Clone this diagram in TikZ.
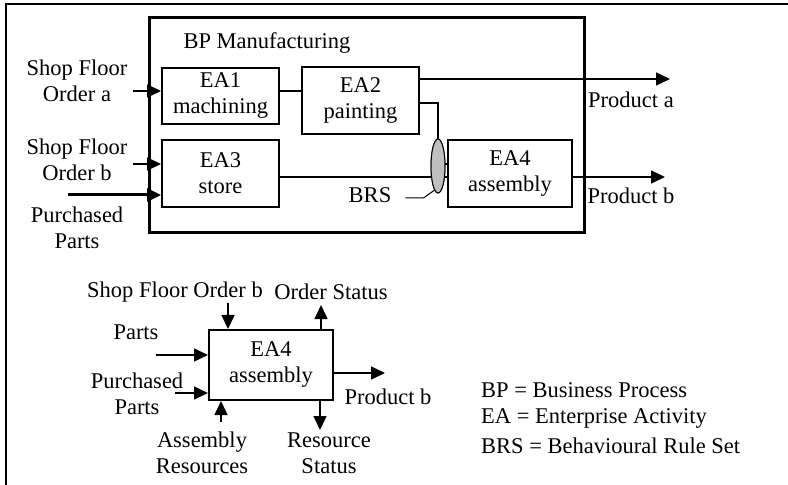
\documentclass[tikz,border=0pt]{standalone}
\usepackage{fontspec}
\setmainfont{Liberation Serif}
\usetikzlibrary{arrows.meta,shapes.geometric,positioning,calc}
\newcommand\diafont{\fontsize{22.5bp}{26bp}\selectfont}
\tikzset{
  ea/.style   = { draw, line width=2bp, minimum width=117bp, align=center, inner sep=0pt },
  bpbox/.style = { draw, line width=3bp },
  lbl/.style  = { align=center, inner sep=0pt },
  flow/.style = { line width=1.5bp, -{Triangle[length=14bp,width=13bp]} },
  link/.style = { line width=1.5bp },
  brsmark/.style = { draw, ellipse, line width=1bp, fill=gray!50, minimum width=14bp, minimum height=54bp, inner sep=0pt }
}
\begin{document}
\begin{tikzpicture}[x=1bp,y=-1bp,font=\diafont]
  \useasboundingbox (0,0) rectangle (788,485);
  % frame (only top and left edges show)
  \draw[line width=2bp] (5.5,485) -- (5.5,4.5) -- (788,4.5);

  % business process
  \node[bpbox, minimum width=434bp, minimum height=214bp] (bp) at (367,125) {};
  \node[lbl] (bptitle) at (267,43) {BP Manufacturing};
  \node[ea, minimum height=56bp] (ea1) at (220.5,96) {EA1\\machining};
  \node[ea, minimum height=67bp] (ea2) at (360.5,100.5) {EA2\\painting};
  \node[ea, minimum height=67bp] (ea3) at (220.5,173.5) {EA3\\store};
  \node[ea, minimum width=124bp, minimum height=67bp] (ea4) at (510,173.5) {EA4\\assembly};
  \node[brsmark] (brs) at (438,166) {};
  \node[lbl] (brslbl) at (370,195) {BRS};

  % inputs
  \node[lbl] (sfoa) at (77,81) {Shop Floor\\Order a};
  \node[lbl] (sfob) at (77,160) {Shop Floor\\Order b};
  \node[lbl] (pparts) at (77,228) {Purchased\\Parts};
  \coordinate (ina) at (133,91);
  \coordinate (inb) at (133,164);
  \coordinate (inp) at (68,195);
  \draw[flow] (ina) -- (ina -| ea1.west);
  \draw[flow] (inb) -- (inb -| ea3.west);
  \draw[flow, line width=3bp] (inp) -- (inp -| ea3.west);

  % internal links
  \draw[link] (ea1.east |- 0,91) -- (ea2.west |- 0,91);
  \draw[link] (ea2.east |- 0,103) -| (brs.center |- 0,103) |- (ea4.west |- 0,164);
  \draw[link] (ea3.east |- 0,177) -- (ea4.west |- 0,177);
  \node[brsmark] at (brs) {};
  \draw[line width=1bp] (brslbl.east) ++(14,3) -- ++(18,0) -- ($(brs.south)+(-4,-3)$);

  % outputs
  \coordinate (outa) at (670,79);
  \coordinate (outb) at (665,177);
  \draw[flow] (ea2.east |- outa) -- (outa);
  \draw[flow] (ea4.east |- outb) -- (outb);
  \node[lbl] (proda) at (631,100) {Product a};
  \node[lbl] (prodb) at (631,196) {Product b};

  % activity view of EA4
  \node[ea, minimum width=124bp, minimum height=70bp] (ea4b) at (271,365) {EA4\\assembly};
  \node[lbl] (sfob2) at (175,292) {Shop Floor Order b};
  \node[lbl] (ostat) at (331,292) {Order Status};
  \node[lbl] (parts2) at (136,332) {Parts};
  \node[lbl] (pparts2) at (137,394) {Purchased\\Parts};
  \node[lbl] (prodb2) at (388,397) {Product b};
  \node[lbl] (asmres) at (202,453) {Assembly\\Resources};
  \node[lbl] (rstat) at (329,453) {Resource\\Status};
  \coordinate (c1) at (228,303);
  \coordinate (c2) at (321,305);
  \coordinate (c3) at (156,355);
  \coordinate (c4) at (175,393);
  \coordinate (c5) at (385,373);
  \coordinate (c6) at (221,422);
  \coordinate (c7) at (320,430);
  \draw[flow] (c1) -- (c1 |- ea4b.north);
  \draw[flow] (c2 |- ea4b.north) -- (c2);
  \draw[flow] (c3) -- (c3 -| ea4b.west);
  \draw[flow] (c4) -- (c4 -| ea4b.west);
  \draw[flow] (c5 -| ea4b.east) -- (c5);
  \draw[flow] (c6) -- (c6 |- ea4b.south);
  \draw[flow] (c7 |- ea4b.south) -- (c7);

  % legend
  \node[lbl, anchor=west] (leg1) at (481,390) {BP = Business Process};
  \node[lbl, anchor=west] (leg2) at (481,418) {EA = Enterprise Activity};
  \node[lbl, anchor=west] (leg3) at (481,446) {BRS = Behavioural Rule Set};
\end{tikzpicture}
\end{document}
